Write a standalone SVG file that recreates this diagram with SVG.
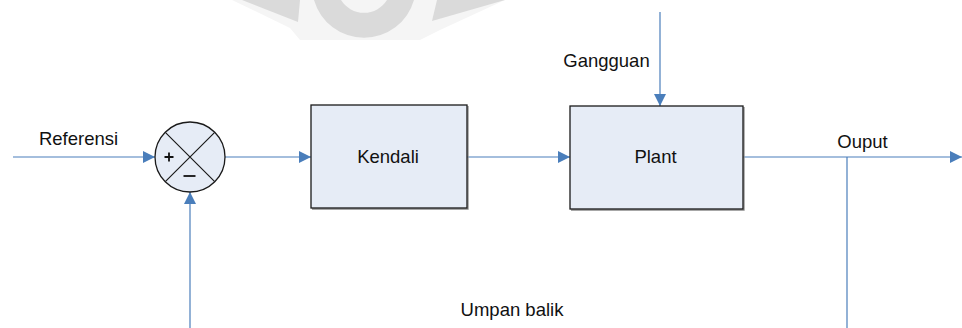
<svg xmlns="http://www.w3.org/2000/svg" width="962" height="328" viewBox="0 0 962 328">
<style>
.wire{fill:none;stroke:#4a7ebb;stroke-width:1.2}
.box{fill:#e6ecf6;stroke:#1a1a1a;stroke-width:1.3}
.shadow{fill:none;stroke:#8a8a8a;stroke-width:1.3}
.lbl{font-family:"Liberation Sans",Arial,sans-serif;font-size:18.5px;fill:#111;text-anchor:middle}
.wm{fill:#dadada}
</style>
<defs>
<marker id="arr" markerUnits="userSpaceOnUse" markerWidth="12" markerHeight="12" refX="12" refY="6" orient="auto">
<path d="M0,0 L12,6 L0,12 z" fill="#4a7ebb"/>
</marker>
</defs>
<g id="watermark">
<path fill="#f5f5f5" d="M232,0 H505 L440,30 L420,40 H300 L290,28 Z"/>
<path class="wm" d="M242,0 L300,0 L298,22 Z"/>
<path class="wm" d="M437,0 L505,0 L432,21 Z"/>
<path class="wm" fill-rule="evenodd" d="M314,0 A52,52 0 0 0 414,0 Z M341,0 A27,27 0 0 0 387,0 Z"/>
</g>
<g id="connectors">
<path class="wire" d="M13,157 H155" marker-end="url(#arr)"/>
<path class="wire" d="M225,157 H311" marker-end="url(#arr)"/>
<path class="wire" d="M467,157 H570" marker-end="url(#arr)"/>
<path class="wire" d="M743,157 H962" marker-end="url(#arr)"/>
<path class="wire" d="M660,12 V106" marker-end="url(#arr)"/>
<path class="wire" d="M847,157 V328"/>
<path class="wire" d="M190,328 V192" marker-end="url(#arr)"/>
</g>
<g id="sum">
<circle class="box" cx="190" cy="157" r="35"/>
<path d="M165.3,132.3 L214.7,181.7 M214.7,132.3 L165.3,181.7" stroke="#1a1a1a" stroke-width="1.2"/>
<path d="M164.5,157 H173.5 M169,152.5 V161.5" stroke="#111" stroke-width="1.8"/>
<path d="M183.5,176 H195.5" stroke="#111" stroke-width="1.8"/>
</g>
<g id="kendali">
<path class="shadow" d="M312,209 H468 V106"/>
<rect class="box" x="311" y="105" width="156" height="103"/>
<text class="lbl" x="388" y="163">Kendali</text>
</g>
<g id="plant">
<path class="shadow" d="M571,210 H744 V107"/>
<rect class="box" x="570" y="106" width="173" height="103"/>
<text class="lbl" x="655.5" y="163">Plant</text>
</g>
<g id="labels">
<text class="lbl" x="78.5" y="145">Referensi</text>
<text class="lbl" x="606.5" y="67">Gangguan</text>
<text class="lbl" x="862.5" y="148">Ouput</text>
<text class="lbl" x="512" y="316">Umpan balik</text>
</g>
</svg>
